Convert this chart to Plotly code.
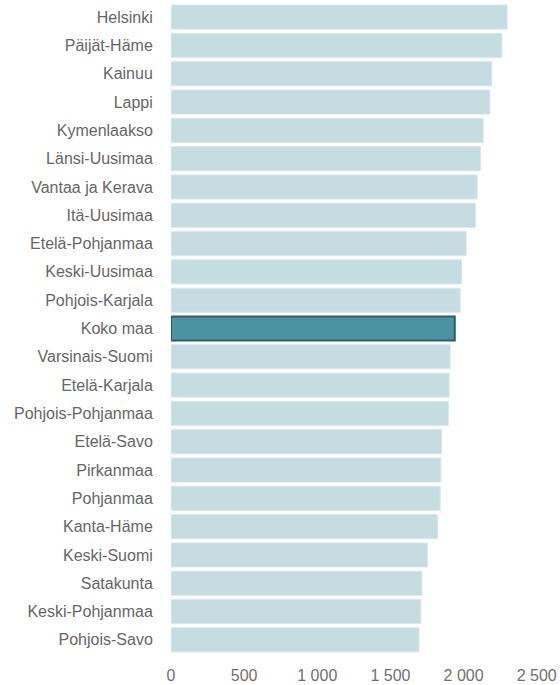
import plotly.graph_objects as go

regions = ["Helsinki", "Päijät-Häme", "Kainuu", "Lappi", "Kymenlaakso", "Länsi-Uusimaa",
           "Vantaa ja Kerava", "Itä-Uusimaa", "Etelä-Pohjanmaa", "Keski-Uusimaa",
           "Pohjois-Karjala", "Koko maa", "Varsinais-Suomi", "Etelä-Karjala",
           "Pohjois-Pohjanmaa", "Etelä-Savo", "Pirkanmaa", "Pohjanmaa", "Kanta-Häme",
           "Keski-Suomi", "Satakunta", "Keski-Pohjanmaa", "Pohjois-Savo"]
values = [2298, 2262, 2193, 2180, 2134, 2116, 2093, 2082, 2018, 1986, 1977, 1940,
          1909, 1902, 1898, 1850, 1845, 1840, 1822, 1754, 1715, 1708, 1695]
tick_vals = [0, 500, 1000, 1500, 2000, 2500]

highlight = "Koko maa"
colors = ["#4a94a1" if r == highlight else "#c5dce1" for r in regions]
line_colors = ["#2c5e66" if r == highlight else "#d8e7ea" for r in regions]
line_widths = [2 if r == highlight else 1 for r in regions]

fig = go.Figure(go.Bar(
    x=values, y=regions, orientation="h",
    marker=dict(color=colors, line=dict(color=line_colors, width=line_widths)),
    width=0.85,
    hoverinfo="x+y",
))

fig.update_layout(
    width=560, height=685,
    margin=dict(l=171, r=16, t=3, b=31),
    plot_bgcolor="white", paper_bgcolor="white",
    separators=", ",
    font=dict(family="Liberation Sans, Arial, sans-serif", size=16, color="#666666"),
    showlegend=False,
    xaxis=dict(range=[0, 2550], tickvals=tick_vals, tickformat=",d", automargin=False,
               showgrid=False, zeroline=False, showline=False,
               ticks="outside", ticklen=7, tickcolor="rgba(0,0,0,0)",
               tickfont=dict(size=16, color="#707070"), fixedrange=True),
    yaxis=dict(autorange="reversed", showgrid=False, zeroline=False, showline=False,
               automargin=False,
               ticks="outside", ticklen=14, tickcolor="rgba(0,0,0,0)",
               tickfont=dict(size=16, color="#666666"), fixedrange=True),
)

fig.write_html("out.html", config={"displayModeBar": False},
               post_script="document.body.style.margin='0';document.body.style.overflow='hidden';")
